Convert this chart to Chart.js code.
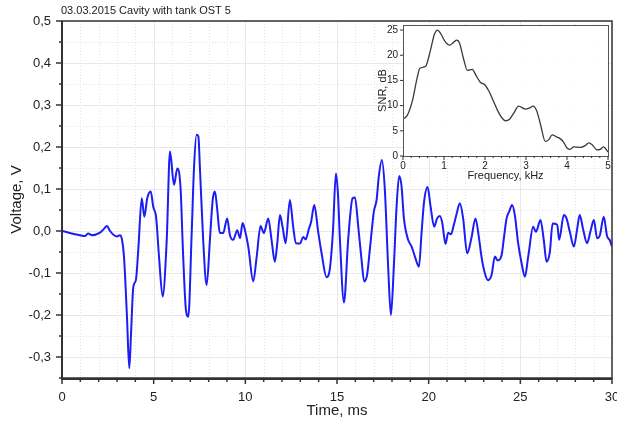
<!DOCTYPE html>
<html><head><meta charset="utf-8">
<script src="https://cdn.jsdelivr.net/npm/chart.js@4.4.1/dist/chart.umd.min.js"></script>
<style>
html,body{margin:0;padding:0;background:#fff;}
#wrap{position:relative;width:617px;height:422px;overflow:hidden;background:#fff;}
#main{position:absolute;left:0;top:0;width:617px;height:422px;}
#inset{position:absolute;left:372px;top:21px;width:241px;height:170px;}
</style></head><body>
<div id="wrap"><canvas id="main" width="617" height="422"></canvas><canvas id="inset" width="241" height="170"></canvas></div>
<script>
const chartTitle = '03.03.2015 Cavity with tank OST 5';
const timeMs = [
 0,0.98,1.25,1.42,1.64,2.07,2.29,2.45,2.62,2.84,
 3.0,3.16,3.27,3.38,3.54,3.67,3.76,3.89,4.03,4.16,
 4.35,4.49,4.65,4.84,4.98,5.13,5.29,5.49,5.71,5.89,
 6.11,6.29,6.47,6.6,6.76,6.89,7.07,7.2,7.34,7.44,
 7.52,7.7,7.89,8.07,8.22,8.34,8.47,8.61,8.79,9.01,
 9.16,9.34,9.56,9.71,9.85,9.98,10.16,10.43,10.62,10.83,
 11.01,11.25,11.43,11.61,11.74,11.89,12.03,12.2,12.43,12.61,
 12.76,12.98,13.16,13.29,13.48,13.58,13.76,13.98,14.16,14.43,
 14.61,14.78,14.94,15.05,15.16,15.38,15.61,15.85,15.98,16.16,
 16.34,16.48,16.64,16.79,17.01,17.16,17.28,17.45,17.61,17.79,
 17.94,18.1,18.25,18.39,18.52,18.65,18.88,19.07,19.25,19.47,
 19.61,19.75,19.94,20.1,20.3,20.46,20.61,20.74,20.92,21.06,
 21.21,21.37,21.52,21.7,21.88,22.1,22.34,22.55,22.74,22.88,
 23.06,23.24,23.43,23.61,23.76,23.98,24.1,24.25,24.39,24.55,
 24.7,24.88,25.07,25.25,25.43,25.7,25.85,26.1,26.28,26.43,
 26.61,26.76,27.01,27.12,27.37,27.52,27.7,27.92,28.1,28.24,
 28.42,28.64,28.83,29.01,29.19,29.34,29.55,29.73,29.88,30
];
const voltageV = [
 0,-0.01,-0.012,-0.006,-0.01,-0.004,0.005,0.012,0,-0.01,
 -0.013,-0.01,-0.02,-0.06,-0.2,-0.327,-0.25,-0.133,-0.117,-0.045,
 0.078,0.034,0.078,0.094,0.057,0.034,-0.06,-0.156,-0.024,0.189,
 0.11,0.149,0.1,-0.05,-0.188,-0.204,-0.01,0.15,0.229,0.225,
 0.153,-0.021,-0.129,-0.02,0.074,0.094,0.05,-0.005,-0.005,0.03,
 -0.01,-0.021,0.002,-0.017,0.019,0.002,-0.037,-0.12,-0.061,0.012,
 -0.005,0.03,-0.021,-0.073,-0.03,0.038,0.01,-0.029,0.074,0.01,
 -0.029,-0.03,-0.014,-0.02,0.007,0.02,0.062,-0.004,-0.053,-0.11,
 -0.09,0,0.137,0.09,-0.021,-0.17,-0.02,0.078,0.08,0.01,
 -0.069,-0.12,-0.105,-0.045,0.046,0.074,0.13,0.169,0.098,-0.085,
 -0.2,-0.085,0.058,0.131,0.107,0.03,-0.021,-0.037,-0.061,-0.085,
 -0.006,0.07,0.105,0.06,0.01,0.03,0.036,0.02,-0.031,-0.004,
 -0.008,0.014,0.04,0.066,0.03,-0.053,-0.015,0.03,-0.015,-0.061,
 -0.1,-0.117,-0.105,-0.061,-0.07,-0.057,-0.018,0.03,0.046,0.062,
 0.038,-0.029,-0.077,-0.109,-0.061,0.01,-0.002,0.026,-0.022,-0.073,
 -0.05,0.018,0.015,-0.021,0.038,0.03,-0.002,-0.037,0.005,0.038,
 0.005,-0.029,0,0.026,-0.017,-0.01,0.034,-0.012,-0.022,-0.037
];
const freqKHz = [0,0.1,0.23,0.35,0.41,0.55,0.67,0.76,0.84,0.92,1.02,1.14,1.24,1.31,1.38,1.47,1.57,1.69,1.78,1.89,2.0,2.1,2.2,2.32,2.42,2.5,2.6,2.7,2.82,2.99,3.1,3.17,3.26,3.35,3.47,3.55,3.64,3.74,3.84,3.92,4.0,4.08,4.16,4.33,4.45,4.53,4.62,4.73,4.81,4.89,5.0];
const snrDB = [7.4,8,11,15.7,17.4,17.8,21,24,25,24.3,22.8,22,22.6,23,22.4,19.5,17,17.2,16,14.6,14.1,12.8,11,8.8,7.5,7.0,7.3,8.5,9.9,9.3,9.6,9.9,9.0,6.4,2.9,3.2,4.2,3.8,3.4,2.7,1.6,1.3,1.8,1.7,2.1,2.6,2.2,1.2,1.3,1.8,0.8];

const FONT = "'Liberation Sans', Arial, sans-serif";
const TXT = '#222';

function commaLabel(v){
  const r = Math.round(v*100);
  if (r % 10 !== 0) return '';
  return (r/100).toFixed(1).replace('.', ',');
}
function range(a, b, s){ const out=[]; const n=Math.round((b-a)/s); for(let i=0;i<=n;i++) out.push(a+i*s); return out; }
function noPad(s){ s.paddingLeft = 0; s.paddingRight = 0; s.paddingTop = 0; s.paddingBottom = 0; }

const mainDecor = {
  id: 'mainDecor',
  beforeDatasetsDraw(chart){
    const {ctx, chartArea:ca, scales:{x,y}} = chart;
    ctx.save();
    ctx.lineWidth = 1;
    ctx.strokeStyle = '#e3e3e3';
    ctx.setLineDash([1,2]);
    range(0,30,1).forEach(v=>{ if (Math.round(v)%5!==0){ const px=Math.round(x.getPixelForValue(v))+0.5; ctx.beginPath(); ctx.moveTo(px,ca.top); ctx.lineTo(px,ca.bottom); ctx.stroke(); }});
    range(-0.35,0.5,0.05).forEach(v=>{ if (Math.round(v*100)%10!==0){ const py=Math.round(y.getPixelForValue(v))+0.5; ctx.beginPath(); ctx.moveTo(ca.left,py); ctx.lineTo(ca.right,py); ctx.stroke(); }});
    ctx.setLineDash([]);
    ctx.strokeStyle = '#e8e8e8';
    range(0,30,5).forEach(v=>{ const px=Math.round(x.getPixelForValue(v))+0.5; ctx.beginPath(); ctx.moveTo(px,ca.top); ctx.lineTo(px,ca.bottom); ctx.stroke(); });
    range(-0.3,0.5,0.1).forEach(v=>{ const py=Math.round(y.getPixelForValue(v))+0.5; ctx.beginPath(); ctx.moveTo(ca.left,py); ctx.lineTo(ca.right,py); ctx.stroke(); });
    ctx.restore();
  },
  afterDraw(chart){
    const {ctx, chartArea:ca, scales:{x,y}} = chart;
    ctx.save();
    ctx.strokeStyle = '#333';
    ctx.lineWidth = 1.5;
    ctx.strokeRect(ca.left, ca.top, ca.right-ca.left, ca.bottom-ca.top);
    ctx.lineWidth = 2;
    ctx.beginPath(); ctx.moveTo(ca.left, ca.top); ctx.lineTo(ca.left, ca.bottom+1); ctx.lineTo(ca.right, ca.bottom+1); ctx.stroke();
    ctx.lineWidth = 1.5;
    range(0,30,1).forEach(v=>{ const px=x.getPixelForValue(v); const len = Math.round(v)%5===0?6:4; ctx.beginPath(); ctx.moveTo(px,ca.bottom); ctx.lineTo(px,ca.bottom+len); ctx.stroke(); });
    range(-0.35,0.5,0.05).forEach(v=>{ const py=y.getPixelForValue(v); const len = Math.round(v*100)%10===0?6:3; ctx.beginPath(); ctx.moveTo(ca.left,py); ctx.lineTo(ca.left-len,py); ctx.stroke(); });
    ctx.fillStyle = TXT;
    ctx.font = '11px ' + FONT;
    ctx.textBaseline = 'middle';
    ctx.textAlign = 'left';
    ctx.fillText(chartTitle, ca.left-1, 11);
    ctx.restore();
  }
};

new Chart(document.getElementById('main'), {
  type: 'line',
  data: { datasets: [{ data: timeMs.map((t,i)=>({x:t, y:voltageV[i]})), borderColor:'#1c1cf5', borderWidth:2, pointRadius:0, cubicInterpolationMode:'monotone', fill:false }] },
  options: {
    responsive:false, animation:false, devicePixelRatio:1,
    layout:{ padding:{ top:21, right:5, left:0, bottom:0 } },
    plugins:{ legend:{display:false}, tooltip:{enabled:false}, title:{display:false} },
    scales:{
      x:{ type:'linear', min:0, max:30,
        ticks:{ stepSize:5, padding:12, color:TXT, font:{family:FONT, size:13}, maxRotation:0 },
        grid:{ display:false, drawTicks:false }, border:{display:false},
        title:{ display:true, text:'Time, ms', color:TXT, font:{family:FONT, size:15}, padding:{top:0,bottom:2} },
        afterFit(s){ s.height = 44; noPad(s); } },
      y:{ type:'linear', min:-0.35, max:0.5,
        ticks:{ stepSize:0.05, padding:11, color:TXT, font:{family:FONT, size:13}, callback:(v)=>commaLabel(v), autoSkip:false },
        grid:{ display:false, drawTicks:false }, border:{display:false},
        title:{ display:true, text:'Voltage, V', color:TXT, font:{family:FONT, size:15}, padding:{top:8,bottom:0} },
        afterFit(s){ s.width = 62; noPad(s); } }
    }
  },
  plugins:[mainDecor]
});

const insetDecor = {
  id:'insetDecor',
  beforeDatasetsDraw(chart){
    const {ctx, chartArea:ca} = chart;
    ctx.save();
    ctx.fillStyle = 'rgba(255,255,255,0.92)';
    ctx.fillRect(ca.left, ca.top, ca.right-ca.left, ca.bottom-ca.top);
    ctx.restore();
  },
  afterDraw(chart){
    const {ctx, chartArea:ca, scales:{x,y}} = chart;
    ctx.save();
    ctx.strokeStyle = '#555';
    ctx.lineWidth = 1;
    ctx.strokeRect(Math.round(ca.left)+0.5, Math.round(ca.top)+0.5, Math.round(ca.right-ca.left), Math.round(ca.bottom-ca.top));
    ctx.strokeStyle = '#333';
    range(0,5,0.2).forEach(v=>{ const px=x.getPixelForValue(v); const len = Math.abs(v-Math.round(v))<1e-6?4:2; ctx.beginPath(); ctx.moveTo(px,ca.bottom); ctx.lineTo(px,ca.bottom+len); ctx.stroke(); });
    range(0,25,5).forEach(v=>{ const py=y.getPixelForValue(v); ctx.beginPath(); ctx.moveTo(ca.left,py); ctx.lineTo(ca.left-3,py); ctx.stroke(); });
    ctx.restore();
  }
};

new Chart(document.getElementById('inset'), {
  type:'line',
  data:{ datasets:[{ data: freqKHz.map((f,i)=>({x:f, y:snrDB[i]})), borderColor:'#3a3a3a', borderWidth:1.3, pointRadius:0, cubicInterpolationMode:'monotone', fill:false }] },
  options:{
    responsive:false, animation:false, devicePixelRatio:1,
    layout:{ padding:{ top:4, right:5, left:0, bottom:0 } },
    plugins:{ legend:{display:false}, tooltip:{enabled:false} },
    scales:{
      x:{ type:'linear', min:0, max:5,
        ticks:{ stepSize:1, padding:4, color:TXT, font:{family:FONT, size:10}, maxRotation:0 },
        grid:{ display:false, drawTicks:false }, border:{display:false},
        title:{ display:true, text:'Frequency, kHz', color:TXT, font:{family:FONT, size:11}, padding:{top:0,bottom:8} },
        afterFit(s){ s.height = 35; noPad(s); } },
      y:{ type:'linear', min:0, max:26,
        ticks:{ stepSize:5, padding:5, color:TXT, font:{family:FONT, size:10} },
        afterBuildTicks(s){ s.ticks = range(0,25,5).map(v=>({value:v})); },
        grid:{ display:false, drawTicks:false }, border:{display:false},
        title:{ display:true, text:'SNR, dB', color:TXT, font:{family:FONT, size:11}, padding:{top:4,bottom:0} },
        afterFit(s){ s.width = 31; noPad(s); } }
    }
  },
  plugins:[insetDecor]
});
</script>
</body></html>
